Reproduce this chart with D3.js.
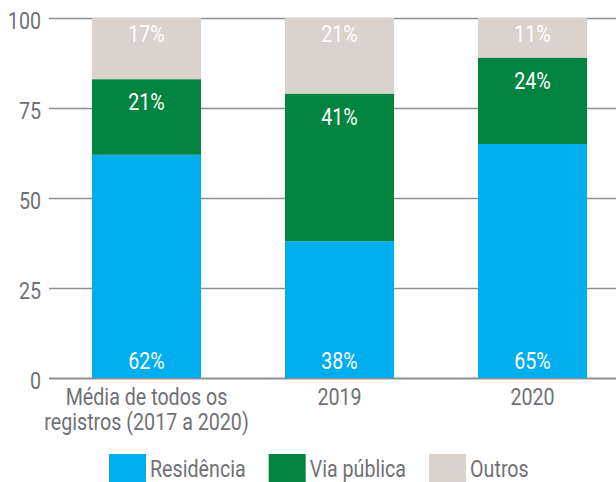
<!DOCTYPE html>
<html>
<head>
<meta charset="utf-8">
<script src="https://cdn.jsdelivr.net/npm/d3@7"></script>
<style>
  html, body { margin: 0; padding: 0; background: #fff; }
  svg { display: block; }
  text { font-family: Roboto, "Noto Sans", sans-serif; }
</style>
</head>
<body>
<svg id="chart" width="616" height="482"></svg>
<script>
// Categories (x axis), split into lines for display
const categories = ["Média de todos os registros (2017 a 2020)", "2019", "2020"];
const categoryLines = [["Média de todos os", "registros (2017 a 2020)"], ["2019"], ["2020"]];

// Series values (% of records)
const seriesNames = ["Residência", "Via pública", "Outros"];
const residencia = [62, 38, 65];
const viaPublica = [21, 41, 24];
const outros = [17, 21, 11];

// Y axis ticks
const yTicks = [0, 25, 50, 75, 100];

const colors = { "Residência": "#00aeef", "Via pública": "#00843f", "Outros": "#dad2cc" };
const textGray = "#707174";
const gridGray = "#8f8f8f";
const SX = 0.82;          // horizontal squeeze for the condensed look
const FS = 24;            // base font size

const rows = categories.map((c, i) => ({
  category: c,
  "Residência": residencia[i],
  "Via pública": viaPublica[i],
  "Outros": outros[i]
}));

const svg = d3.select("#chart");

const y = d3.scaleLinear().domain([0, 100]).range([378, 18]);
const x = d3.scaleBand()
  .domain(categories)
  .range([50, 629])
  .paddingInner(0.435)
  .paddingOuter(0.2175);

// Gridlines + y tick labels
const yAxis = d3.axisLeft(y)
  .tickValues(yTicks)
  .tickSize(-(616 - 49))
  .tickPadding(9);

const gAxis = svg.append("g")
  .attr("transform", "translate(49,0)")
  .call(yAxis);
gAxis.select(".domain").remove();
gAxis.selectAll(".tick line")
  .attr("stroke", gridGray)
  .attr("stroke-width", d => d === 0 ? 2 : 1.3);
gAxis.selectAll(".tick text")
  .attr("fill", textGray)
  .attr("font-size", FS)
  .attr("font-family", "Roboto, sans-serif")
  .attr("dy", "0.42em")
  .attr("transform", `scale(${SX},1)`)
  .attr("x", -8 / SX);

// Stacked bars
const stack = d3.stack().keys(seriesNames);
const layers = stack(rows);

const gBars = svg.append("g");
layers.forEach(layer => {
  const key = layer.key;
  gBars.selectAll(null)
    .data(layer)
    .join("rect")
    .attr("x", d => x(d.data.category))
    .attr("width", x.bandwidth())
    .attr("y", d => y(d[1]))
    .attr("height", d => y(d[0]) - y(d[1]))
    .attr("fill", colors[key]);
});

// Helper: squeezed text placed at (px, py)
function sText(parent, px, py, str, opts) {
  const g = parent.append("g").attr("transform", `translate(${px},${py}) scale(${SX},1)`);
  const t = g.append("text")
    .attr("text-anchor", opts.anchor || "middle")
    .attr("font-size", opts.size || FS)
    .attr("fill", opts.fill)
    .text(str);
  return t;
}

// Value labels: Residência at the bar base, the others just inside the segment top
const gLabels = svg.append("g");
layers.forEach(layer => {
  const key = layer.key;
  layer.forEach(d => {
    const cx = x(d.data.category) + x.bandwidth() / 2;
    const v = d.data[key];
    let by;
    if (key === "Residência") by = y(d[0]) - 9;
    else if (key === "Via pública") by = y(d[1]) + 31;
    else by = y(d[1]) + 24;
    sText(gLabels, cx, by, v + "%", { fill: "#ffffff" });
  });
});

// Category labels
const gCats = svg.append("g");
categories.forEach((c, i) => {
  const cx = x(c) + x.bandwidth() / 2;
  categoryLines[i].forEach((line, j) => {
    sText(gCats, cx, 405 + j * 25, line, { fill: textGray });
  });
});

// Legend
const gLeg = svg.append("g");
let lx = 109;
seriesNames.forEach(name => {
  gLeg.append("rect")
    .attr("x", lx).attr("y", 454)
    .attr("width", 37).attr("height", 30)
    .attr("fill", colors[name]);
  const t = sText(gLeg, lx + 41, 477, name, { fill: textGray, anchor: "start" });
  const w = t.node().getComputedTextLength() * SX;
  lx = lx + 41 + w + 23;
});
</script>
</body>
</html>
